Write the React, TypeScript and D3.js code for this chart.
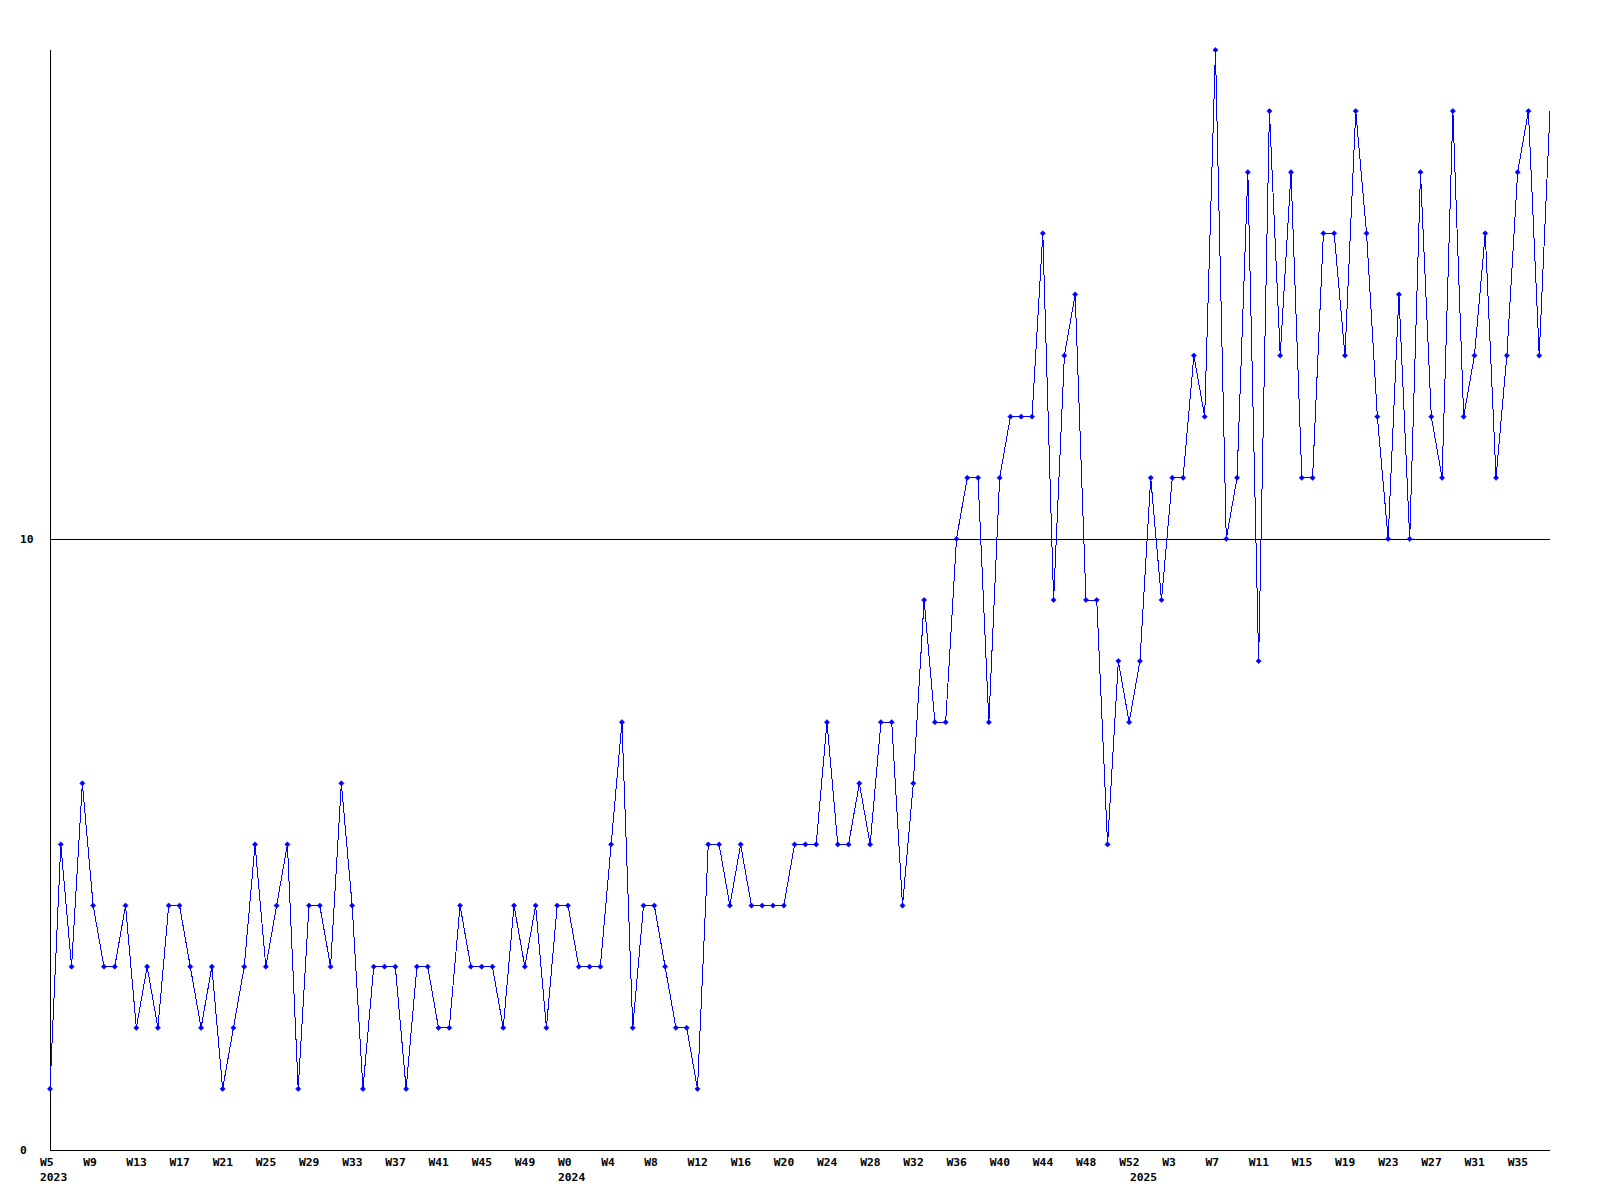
import React from 'react';
import * as d3 from 'd3';

// Weekly values
const values2023 = [1, 5, 3, 6, 4, 3, 3, 4, 2, 3, 2, 4, 4, 3, 2, 3, 1, 2, 3, 5, 3, 4, 5, 1, 4, 4, 3, 6, 4, 1, 3, 3, 3, 1, 3, 3, 2, 2, 4, 3, 3, 3, 2, 4, 3, 4, 2, 4];
const values2024 = [4, 3, 3, 3, 5, 7, 2, 4, 4, 3, 2, 2, 1, 5, 5, 4, 5, 4, 4, 4, 4, 5, 5, 5, 7, 5, 5, 6, 5, 7, 7, 4, 6, 9, 7, 7, 10, 11, 11, 7, 11, 12, 12, 12, 15, 9, 13, 14, 9, 9, 5, 8, 7];
const values2025 = [8, 11, 9, 11, 11, 13, 12, 18, 10, 11, 16, 8, 17, 13, 16, 11, 11, 15, 15, 13, 17, 15, 12, 10, 14, 10, 16, 12, 11, 17, 12, 13, 15, 11, 13, 16, 17, 13, 17];

const years = [2023, 2024, 2025];
const firstWeeks = [5, 0, 0];
const yTicks = [0, 10];
const yMax = 18;
const labelEvery = 4;

type Pt = { year: number; week: number; value: number; firstOfYear: boolean };

export default function App() {
  const W = 1600;
  const H = 1200;
  const left = 50;
  const right = 1550;
  const top = 50;
  const bottom = 1150;

  const segments = [values2023, values2024, values2025];
  const points: Pt[] = segments.flatMap((vals, s) =>
    vals.map((v, i) => ({ year: years[s], week: firstWeeks[s] + i, value: v, firstOfYear: i === 0 }))
  );

  const x = d3.scaleLinear().domain([0, points.length - 1]).range([left, right]);
  const y = d3.scaleLinear().domain([0, yMax]).range([bottom, top]);

  const linePath = d3
    .line<Pt>()
    .x((_d, i) => x(i))
    .y((d) => y(d.value))(points) || '';

  const font = "'DejaVu Sans Mono', monospace";
  const fs = 11.3;

  return (
    <svg
      width={W}
      height={H}
      style={{ position: 'absolute', left: 0, top: 0, background: '#fff' }}
      xmlns="http://www.w3.org/2000/svg"
    >
      <rect x={0} y={0} width={W} height={H} fill="#fff" />
      {/* y grid / axis lines */}
      {yTicks.map((t) => (
        <g key={'yt' + t}>
          <line x1={left} x2={right} y1={y(t) + 0.5} y2={y(t) + 0.5} stroke="#000" strokeWidth={1} shapeRendering="crispEdges" />
          <text x={20} y={y(t) + 3.8} fontFamily={font} fontWeight="bold" fontSize={fs} fill="#000">
            {t}
          </text>
        </g>
      ))}
      <line x1={left + 0.5} x2={left + 0.5} y1={top} y2={bottom} stroke="#000" strokeWidth={1} shapeRendering="crispEdges" />

      {/* data line */}
      <path d={linePath} fill="none" stroke="#0000ff" strokeWidth={1} shapeRendering="crispEdges" />
      {points.slice(0, points.length - 1).map((d, i) => {
        const cx = x(i);
        const cy = y(d.value);
        const r = 2.6;
        return (
          <polygon
            key={'m' + i}
            points={`${cx - r},${cy} ${cx},${cy - r} ${cx + r},${cy} ${cx},${cy + r}`}
            fill="#0000ff"
            stroke="#0000ff"
            strokeWidth={0.6}
          />
        );
      })}

      {/* x labels */}
      {points.map((d, i) =>
        i % labelEvery === 0 ? (
          <text key={'xl' + i} x={x(i) - 10} y={1166} fontFamily={font} fontWeight="bold" fontSize={fs} fill="#000">
            {'W' + d.week}
          </text>
        ) : null
      )}
      {points.map((d, i) =>
        d.firstOfYear ? (
          <text key={'yl' + i} x={x(i) - 10} y={1181} fontFamily={font} fontWeight="bold" fontSize={fs} fill="#000">
            {d.year}
          </text>
        ) : null
      )}
    </svg>
  );
}
